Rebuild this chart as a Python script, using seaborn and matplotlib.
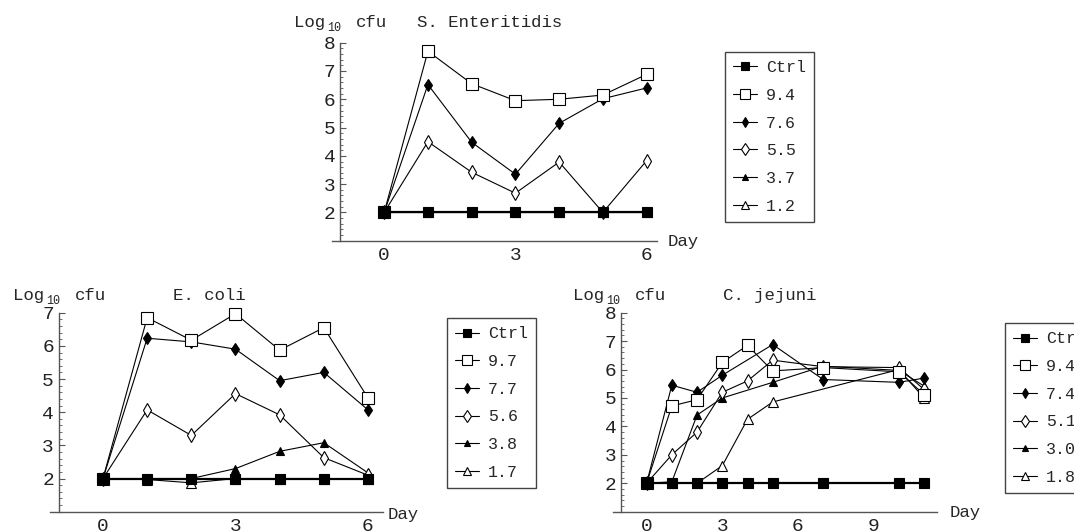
import numpy as np
import pandas as pd
import matplotlib
matplotlib.use('Agg')
import matplotlib.pyplot as plt
import seaborn as sns
from matplotlib.lines import Line2D
from matplotlib.ticker import MultipleLocator, FixedLocator

# S. Enteritidis
se_days = [0, 1, 2, 3, 4, 5, 6]
se_labels = ['Ctrl', '9.4', '7.6', '5.5', '3.7', '1.2']
se_ctrl = [2, 2, 2, 2, 2, 2, 2]
se_a = [2, 7.7, 6.55, 5.95, 6.0, 6.15, 6.88]
se_b = [2, 6.52, 4.48, 3.35, 5.15, 6.02, 6.4]
se_c = [2, 4.5, 3.42, 2.68, 3.78, 2.0, 3.83]
se_d = [2, 2, 2, 2, 2, 2, 2]
se_e = [2, 2, 2, 2, 2, 2, 2]

# E. coli
ec_days = [0, 1, 2, 3, 4, 5, 6]
ec_labels = ['Ctrl', '9.7', '7.7', '5.6', '3.8', '1.7']
ec_ctrl = [2, 2, 2, 2, 2, 2, 2]
ec_a = [2, 6.85, 6.17, 6.97, 5.87, 6.55, 4.43]
ec_b = [2, 6.23, 6.12, 5.9, 4.95, 5.2, 4.07]
ec_c = [2, 4.07, 3.3, 4.56, 3.92, 2.63, 2.1]
ec_d = [2, 2.0, 2.0, 2.3, 2.82, 3.08, 2.17]
ec_e = [2, 1.97, 1.87, 2.0, 2.0, 2.0, 1.98]

# C. jejuni (NaN = no sample that day)
cj_days = [0, 1, 2, 3, 4, 5, 7, 10, 11]
cj_labels = ['Ctrl', '9.4', '7.4', '5.1', '3.0', '1.8']
cj_ctrl = [2, 2, 2, 2, 2, 2, 2, 2, 2]
cj_a = [2, 4.72, 4.94, 6.25, 6.85, 5.95, 6.07, 5.92, 5.12]
cj_b = [2, 5.45, 5.2, 5.8, np.nan, 6.88, 5.65, 5.55, 5.7]
cj_c = [2, 3.0, 3.8, 5.2, 5.6, 6.33, 6.1, 6.07, 5.3]
cj_d = [2, 2.05, 4.4, 5.0, np.nan, 5.55, 6.12, 5.97, 5.42]
cj_e = [2, 2.0, 2.0, 2.62, 4.25, 4.86, np.nan, 6.0, 5.0]

W, H = 1074, 531

styles = [
    dict(marker='s', ms=7.5, mfc='black', lw=1.6),
    dict(marker='s', ms=8.5, mfc='white', lw=0.8),
    dict(marker='d', ms=6.0, mfc='black', lw=0.8),
    dict(marker='d', ms=7.0, mfc='white', lw=0.8),
    dict(marker='^', ms=5.5, mfc='black', lw=0.8),
    dict(marker='^', ms=7.0, mfc='white', lw=0.8),
]
leg_ms = [6, 6.5, 5, 6, 4.5, 5.5]

sns.set_theme(style='white')
plt.rcParams['font.family'] = ['Liberation Mono', 'DejaVu Sans']
axis_col = '#555555'

fig = plt.figure(figsize=(W / 100, H / 100), dpi=100)


def px(x, y):
    return x / W, 1 - y / H


def panel(rect, days, series, labels, xlim, ylim, xticks, title, title_x,
          log_xy, day_xy, leg_xy):
    l, t, r, b = rect
    ax = fig.add_axes([l / W, 1 - b / H, (r - l) / W, (b - t) / H])
    for i in reversed(range(len(series))):
        st = styles[i]
        df = pd.DataFrame({'day': days, 'cfu': series[i]}).dropna()
        sns.lineplot(data=df, x='day', y='cfu', ax=ax, color='black',
                     marker=st['marker'], markersize=st['ms'],
                     markerfacecolor=st['mfc'], markeredgecolor='black',
                     markeredgewidth=0.8, linewidth=st['lw'],
                     errorbar=None, legend=False, clip_on=False, zorder=3 + (6 - i))
    ax.set(xlabel='', ylabel='')
    ax.set_xlim(*xlim)
    ax.set_ylim(*ylim)
    for s in ['top', 'right']:
        ax.spines[s].set_visible(False)
    ax.spines['left'].set_position(('data', -1))
    for s in ['left', 'bottom']:
        ax.spines[s].set_color(axis_col)
        ax.spines[s].set_linewidth(1.0)
    ax.xaxis.set_major_locator(FixedLocator(xticks))
    ax.yaxis.set_major_locator(FixedLocator(list(range(2, int(ylim[1]) + 1))))
    ax.yaxis.set_minor_locator(MultipleLocator(0.2))
    ax.tick_params(axis='x', which='major', direction='in', length=2.5, width=0.8,
                   color=axis_col, labelsize=14, labelcolor='#222222', pad=4.5)
    ax.tick_params(axis='y', which='major', direction='in', length=4, width=0.8,
                   color=axis_col, labelsize=14, labelcolor='#222222', pad=3.5, left=True)
    ax.tick_params(axis='y', which='minor', direction='in', length=2.2, width=0.6,
                   color=axis_col, left=True)
    ax.set_facecolor('none')
    ax.grid(False)

    # axis captions
    fig.text(*px(*log_xy), 'Log', fontsize=12.5, va='baseline', ha='left')
    fig.text(*px(log_xy[0] + 33, log_xy[1] + 4), '10', fontsize=8.5, va='baseline', ha='left')
    fig.text(*px(log_xy[0] + 62, log_xy[1]), 'cfu', fontsize=12.5, va='baseline', ha='left')
    fig.text(*px(title_x, log_xy[1]), title, fontsize=12.5, va='baseline', ha='center')
    fig.text(*px(*day_xy), 'Day', fontsize=12.5, va='center', ha='left')

    handles = []
    for i, st in enumerate(styles):
        handles.append(Line2D([], [], color='black', lw=0.8, marker=st['marker'],
                              ms=leg_ms[i], mfc=st['mfc'], mec='black', mew=0.8))
    leg = fig.legend(handles, labels, loc='upper left', bbox_to_anchor=px(*leg_xy),
                     bbox_transform=fig.transFigure, frameon=True, fancybox=False,
                     edgecolor='#444444', framealpha=1, fontsize=12, handlelength=1.4,
                     handletextpad=0.55, labelspacing=0.76, borderpad=0.5,
                     borderaxespad=0)
    leg.get_frame().set_linewidth(1.0)
    return ax


panel((331.7, 42.7, 656.7, 240.7), se_days,
      [se_ctrl, se_a, se_b, se_c, se_d, se_e], se_labels,
      (-1.2, 6.23), (1, 8), [0, 3, 6], 'S. Enteritidis', 490,
      (294, 27), (668, 241), (725, 52))

panel((50, 312.7, 383, 511.7), ec_days,
      [ec_ctrl, ec_a, ec_b, ec_c, ec_d, ec_e], ec_labels,
      (-1.2, 6.34), (1, 7), [0, 3, 6], 'E. coli', 209,
      (13, 300), (388, 514), (447, 318))

panel((613.3, 312.7, 936.7, 511.7), cj_days,
      [cj_ctrl, cj_a, cj_b, cj_c, cj_d, cj_e], cj_labels,
      (-1.32, 11.5), (1, 8), [0, 3, 6, 9], 'C. jejuni', 770,
      (573, 300), (950, 513), (1005, 323))

fig.savefig('out.png', dpi=100)
